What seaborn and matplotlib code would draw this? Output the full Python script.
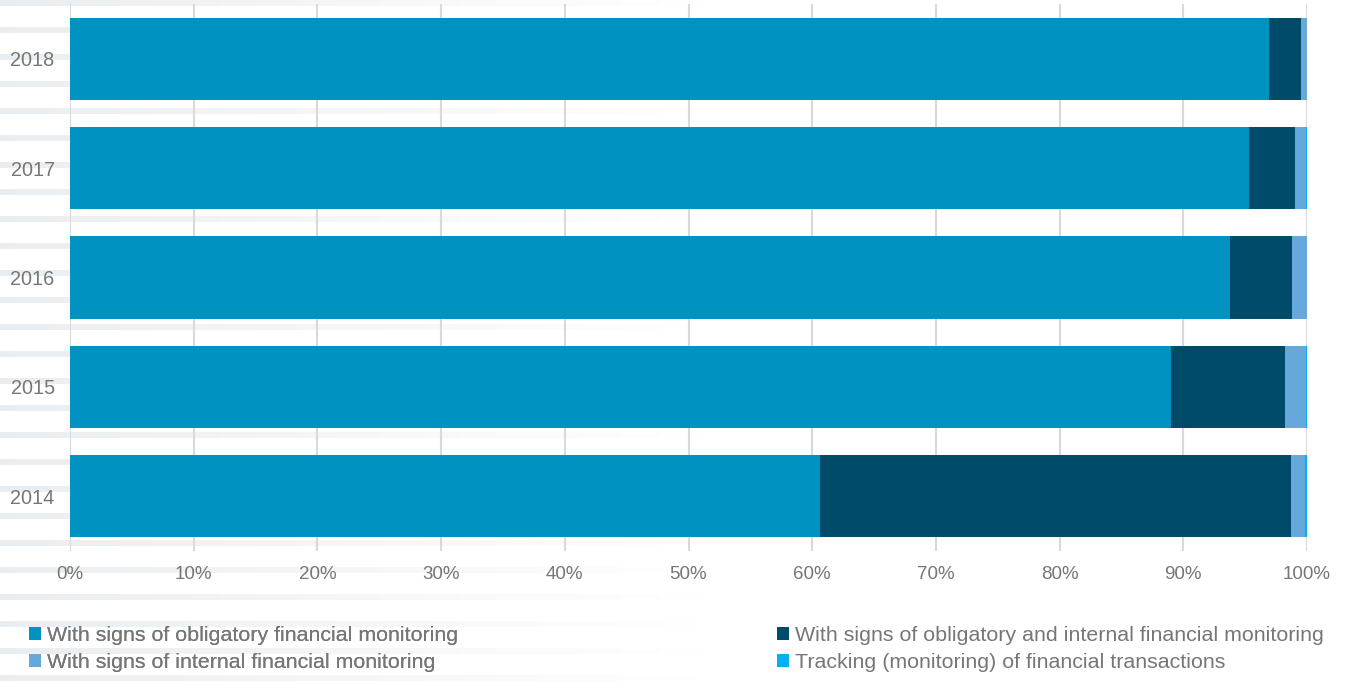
import numpy as np
import pandas as pd
import matplotlib.pyplot as plt
import seaborn as sns
from matplotlib.patches import Patch

# data (shares, %)
years = ['2018', '2017', '2016', '2015', '2014']
obligatory = [96.9, 95.3, 93.8, 89.0, 60.6]
obligatory_internal = [2.6, 3.7, 5.0, 9.2, 38.1]
internal = [0.5, 0.9, 1.2, 1.7, 1.1]
tracking = [0.0, 0.1, 0.0, 0.1, 0.2]

series_names = ['With signs of obligatory financial monitoring',
                'With signs of obligatory and internal financial monitoring',
                'With signs of internal financial monitoring',
                'Tracking (monitoring) of financial transactions']
colors = ['#0093C2', '#004A6A', '#66A8DB', '#00B0F0']
tick_labels = ['0%', '10%', '20%', '30%', '40%', '50%', '60%', '70%', '80%', '90%', '100%']
text_color = '#767676'

sns.set_style('white')
plt.rcParams['font.family'] = ['Liberation Sans', 'DejaVu Sans']

fig = plt.figure(figsize=(13.48, 6.82), dpi=100)

# faint decorative stripes in the background, fading out to the right
bg = fig.add_axes([0, 0, 1, 1], zorder=-5)
h, w = 682, 1348
yy = np.arange(h)[:, None]
xx = np.arange(w)[None, :]
stripe = ((yy % 27) < 6).astype(float)
fade = np.clip(1 - xx / 700.0, 0, 1)
img = np.ones((h, w, 3))
shade = 0.08 * stripe * fade
img -= shade[..., None] * np.array([1.0, 0.85, 0.75])
bg.imshow(img, aspect='auto', extent=[0, 1, 0, 1])
bg.axis('off')

ax = fig.add_axes([70 / 1348, 1 - 551 / 682, (1307 - 70) / 1348, (551 - 4) / 682])
ax.patch.set_alpha(0)

df = pd.DataFrame({'year': years,
                   's1': obligatory,
                   's2': obligatory_internal,
                   's3': internal,
                   's4': tracking})
cum = df[['s1', 's2', 's3', 's4']].cumsum(axis=1)

# draw cumulative totals from the largest down so each layer shows its share
for col, color in zip(['s4', 's3', 's2', 's1'], colors[::-1]):
    sns.barplot(x=cum[col], y=df['year'], order=years, orient='h',
                color=color, width=0.75, ax=ax, saturation=1, edgecolor='none')

ax.set_xlim(0, 100)
ax.set_ylim(4.5, -0.5)
ax.set_xticks(np.arange(0, 101, 10))
ax.set_xticklabels(tick_labels)
ax.set_xlabel('')
ax.set_ylabel('')
ax.xaxis.grid(True, color='#D9D9D9', linewidth=1.5)
ax.set_axisbelow(True)
for s in ax.spines.values():
    s.set_visible(False)
ax.tick_params(axis='x', length=0, pad=11, labelsize=13.5, labelcolor=text_color)
ax.tick_params(axis='y', length=0, pad=11, labelsize=14.3, labelcolor=text_color)

handles = [Patch(facecolor=c, edgecolor='none') for c in colors]
leg_kw = dict(loc='center left', frameon=False, fontsize=15.4, handlelength=0.55,
              handleheight=0.55, handletextpad=0.3, labelspacing=0.4,
              borderpad=0, borderaxespad=0, labelcolor=text_color)
leg1 = fig.legend([handles[0], handles[2]], [series_names[0], series_names[2]],
                  bbox_to_anchor=(29 / 1348, 1 - 649 / 682), **leg_kw)
fig.add_artist(leg1)
fig.legend([handles[1], handles[3]], [series_names[1], series_names[3]],
           bbox_to_anchor=(777 / 1348, 1 - 649 / 682), **leg_kw)

fig.savefig('out.png', dpi=100)
